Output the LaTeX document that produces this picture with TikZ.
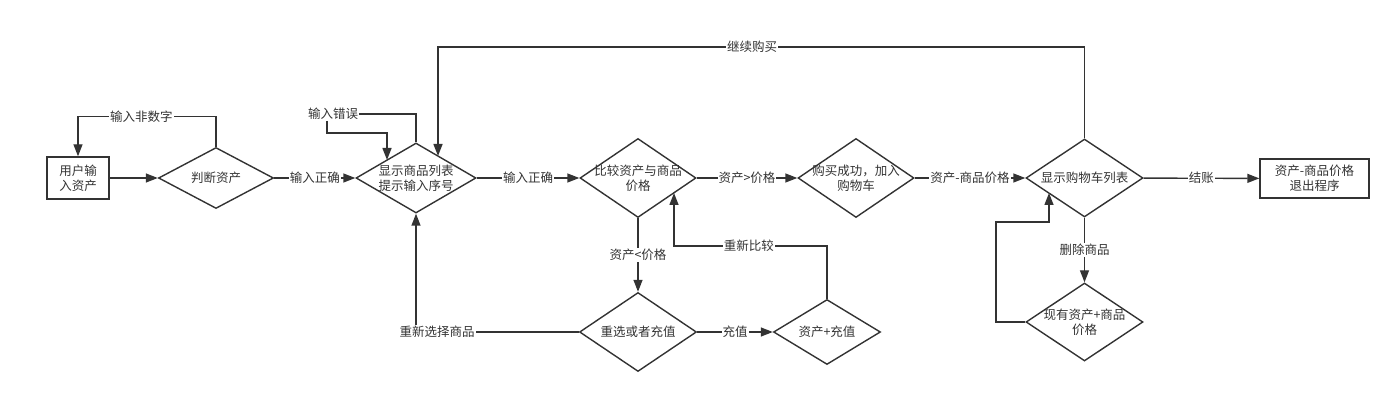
\documentclass[tikz,border=0pt]{standalone}
\usepackage{fontspec}
\usepackage{xcolor}
\usepackage{tikz}
\usetikzlibrary{shapes.geometric}
\usetikzlibrary{arrows.meta}
\newfontfamily\cjk{Noto Sans CJK SC}
\definecolor{ink}{HTML}{333333}
\begin{document}
\begin{tikzpicture}[x=1pt,y=-1pt,
	every node/.style={font=\cjk\fontsize{12.5}{15}\selectfont,text=ink},
	line/.style={draw=ink,line width=1.4pt},
	arr/.style={line,-{Triangle[length=12pt,width=9pt]}},
	box/.style={rectangle,draw=ink,line width=1.4pt,align=center,inner sep=0pt},
	dia/.style 2 args={diamond,draw=ink,line width=1.4pt,inner sep=0pt,minimum width=#1,minimum height=#2},
	txt/.style={align=center},
	lbl/.style={fill=white,inner sep=1pt}]
	\useasboundingbox (0,0) rectangle (1400,403);
	% boxes and decisions
	\node[box,minimum width=62,minimum height=42] (user) at (78,178) {用户输\\入资产};
	\node[dia={115}{61},label={[txt]center:判断资产}] (judge) at (216,178) {};
	\node[dia={120}{70},label={[txt]center:显示商品列表\\提示输入序号}] (show) at (416,178) {};
	\node[dia={116}{79},label={[txt]center:比较资产与商品\\价格}] (cmp) at (638,178) {};
	\node[dia={116}{79},label={[txt]center:购买成功，加入\\购物车}] (buy) at (856,178) {};
	\node[dia={117}{78},label={[txt]center:显示购物车列表}] (cart) at (1084.5,178) {};
	\node[box,minimum width=109,minimum height=39] (quit) at (1314.5,178.5) {资产-商品价格\\退出程序};
	\node[dia={117}{79},label={[txt]center:重选或者充值}] (retry) at (638,332) {};
	\node[dia={107}{65},label={[txt]center:资产+充值}] (topup) at (827,332) {};
	\node[dia={117}{78},label={[txt]center:现有资产+商品\\价格}] (del) at (1084.5,322) {};
	% free ends
	\node[lbl] (errlbl) at (333,114) {输入错误};
	\coordinate (errin) at (387,160);
	\coordinate (buyin) at (438,156);
	\coordinate (cmpin) at (674,193);
	\coordinate (cartin) at (1049,193);
	% main row
	\draw[arr] (user) -- (judge);
	\draw[arr] (judge) -- node[lbl] {输入正确} (show);
	\draw[arr] (show) -- node[lbl] {输入正确} (cmp);
	\draw[arr] (cmp) -- node[lbl] {资产>价格} (buy);
	\draw[arr] (buy) -- node[lbl] {资产-商品价格} (cart);
	\draw[arr] (cart) -- node[lbl] {结账} (quit);
	% loops
	\draw[arr] (judge.north) -- ++(0,-30) -| node[lbl,pos=0.27] {输入非数字} (user.north);
	\draw[line] (show.north) |- (errlbl.east);
	\draw[arr] (errlbl.south) ++(-6,0) |- (errin |- 0,133) -- (errin);
	\draw[arr] (cart.north) |- node[lbl,pos=0.757] {继续购买} (buyin |- 0,47) -- (buyin);
	\draw[arr] (cmp) -- node[lbl] {资产<价格} (retry);
	\draw[arr] (retry) -- node[lbl] {充值} (topup);
	\draw[arr] (topup.north) |- node[lbl,pos=0.755] {重新比较} (cmpin |- 0,246) -- (cmpin);
	\draw[arr] (retry.west) -| node[lbl,pos=0.435] {重新选择商品} (show.south);
	\draw[arr] (cart) -- node[lbl] {删除商品} (del);
	\draw[arr] (del.west) -| (996,222) -| (cartin);
\end{tikzpicture}
\end{document}
